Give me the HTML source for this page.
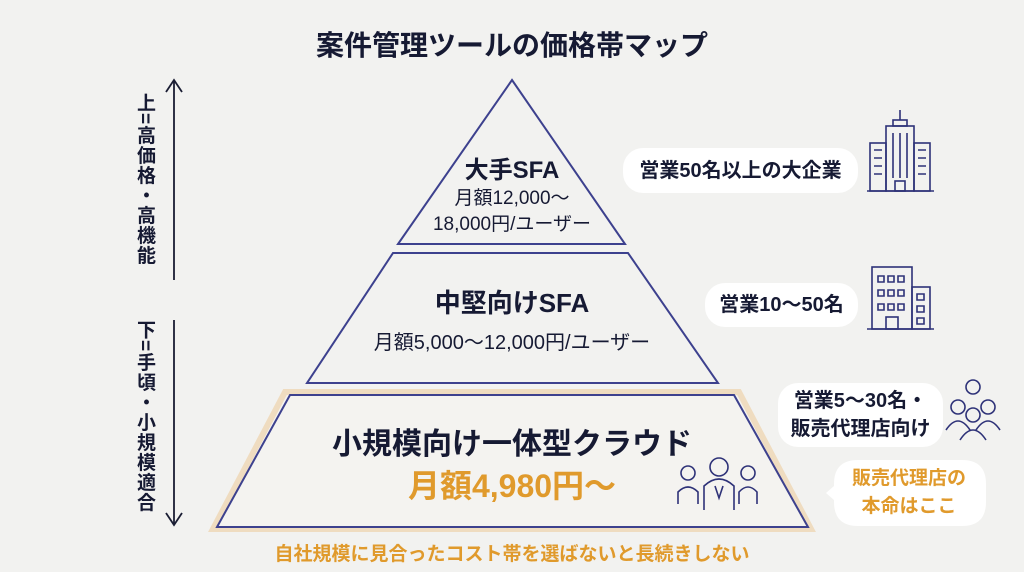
<!DOCTYPE html>
<html><head><meta charset="utf-8"><style>
html,body{margin:0;padding:0}
body{width:1024px;height:572px;background:#f2f2f0;position:relative;overflow:hidden;font-family:"Liberation Sans","Noto Sans CJK JP",sans-serif;color:#161a33}
.t{position:absolute;white-space:nowrap;font-weight:bold;text-align:center}
.box{position:absolute;background:#fff;border-radius:20px;font-weight:bold;font-size:20px;display:flex;align-items:center;justify-content:center;text-align:center;line-height:28px;white-space:nowrap}
.v{position:absolute;writing-mode:vertical-rl;font-weight:bold;font-size:19px;letter-spacing:1px}
</style></head><body>
<svg width="1024" height="572" style="position:absolute;left:0;top:0">
<g fill="none" stroke="#3d418e" stroke-width="2">
<polygon points="512,80 625,244 398,244"/>
<polygon points="393,253 628,253 718,383 307,383"/>
<polygon points="285,392 739,392 811,529 213,529" stroke="#efdcc0" stroke-width="6" fill="#f4f3f0"/>
<polygon points="290,395 734,395 808,527 217,527"/>
</g>
<g stroke="#1a1d33" stroke-width="1.8" fill="none">
<line x1="174" y1="80" x2="174" y2="280"/><polyline points="166,92 174,80 182,92"/>
<line x1="174" y1="320" x2="174" y2="525"/><polyline points="166,513 174,525 182,513"/>
</g>
<g stroke="#2e3278" stroke-width="1.6" fill="none">
<line x1="900" y1="110" x2="900" y2="120"/>
<rect x="893" y="120" width="14" height="6"/>
<rect x="886" y="126" width="28" height="65"/>
<rect x="870" y="143" width="16" height="48"/><rect x="914" y="143" width="16" height="48"/>
<line x1="867" y1="191" x2="934" y2="191"/>
<line x1="893" y1="133" x2="893" y2="178"/><line x1="900" y1="133" x2="900" y2="178"/><line x1="907" y1="133" x2="907" y2="178"/>
<rect x="895" y="181" width="10" height="10"/>
<path d="M874 150h8M874 158h8M874 166h8M874 174h8M918 150h8M918 158h8M918 166h8M918 174h8"/>
<rect x="872" y="267" width="40" height="62"/><rect x="912" y="287" width="18" height="42"/>
<line x1="867" y1="329" x2="934" y2="329"/>
<path d="M878 276h6v6h-6zM888 276h6v6h-6zM898 276h6v6h-6zM878 290h6v6h-6zM888 290h6v6h-6zM898 290h6v6h-6zM878 304h6v6h-6zM888 304h6v6h-6zM898 304h6v6h-6zM917 294h7v6h-7zM917 306h7v6h-7zM917 318h7v6h-7z"/>
<rect x="886" y="317" width="12" height="12"/>
<circle cx="973" cy="387" r="7"/><circle cx="958" cy="407" r="7"/><circle cx="988" cy="407" r="7"/><circle cx="973" cy="415" r="7"/>
<path d="M946 430q12-18 24 0M976 430q12-18 24 0M960 440q13-20 26 0"/>
<circle cx="688" cy="473" r="7"/><path d="M678 504v-12q10-10 20 0v12"/>
<circle cx="719" cy="467" r="9"/><path d="M704 510v-24q15-14 30 0v24M715 486l4 12 4-12"/>
<circle cx="748" cy="473" r="7"/><path d="M739 504v-12q9-10 18 0v12"/>
</g>
<path d="M858 460h104q24 0 24 24v18q0 24-24 24h-104q-24 0-24-24v-2l-8-7 8-7v-2q0-24 24-24z" fill="#fff"/>
</svg>
<div class="t" style="left:0;width:1024px;top:24px;font-size:28px">案件管理ツールの価格帯マップ</div>
<div class="t" style="left:412px;width:200px;top:150px;font-size:24px">大手SFA</div>
<div class="t" style="left:392px;width:240px;top:186px;font-size:19px;font-weight:normal;line-height:26px">月額12,000〜<br>18,000円/ユーザー</div>
<div class="t" style="left:362px;width:300px;top:283px;font-size:26px">中堅向けSFA</div>
<div class="t" style="left:312px;width:400px;top:326px;font-size:20px;font-weight:normal">月額5,000〜12,000円/ユーザー</div>
<div class="t" style="left:262px;width:500px;top:419px;font-size:30px">小規模向け一体型クラウド</div>
<div class="t" style="left:312px;width:400px;top:461px;font-size:32px;color:#e09a2c">月額4,980円〜</div>
<div class="t" style="left:212px;width:600px;top:539px;font-size:19px;color:#e09a2c">自社規模に見合ったコスト帯を選ばないと長続きしない</div>
<div class="box" style="left:623px;top:148px;width:235px;height:45px">営業50名以上の大企業</div>
<div class="box" style="left:705px;top:283px;width:153px;height:44px">営業10〜50名</div>
<div class="box" style="left:778px;top:383px;width:165px;height:64px">営業5〜30名・<br>販売代理店向け</div>
<div class="t" style="left:833px;width:152px;top:465px;font-size:19px;color:#e09a2c;line-height:28px">販売代理店の<br>本命はここ</div>
<div class="v" style="left:131px;top:93px">上=高価格・高機能</div>
<div class="v" style="left:131px;top:320px">下=手頃・小規模適合</div>
</body></html>
